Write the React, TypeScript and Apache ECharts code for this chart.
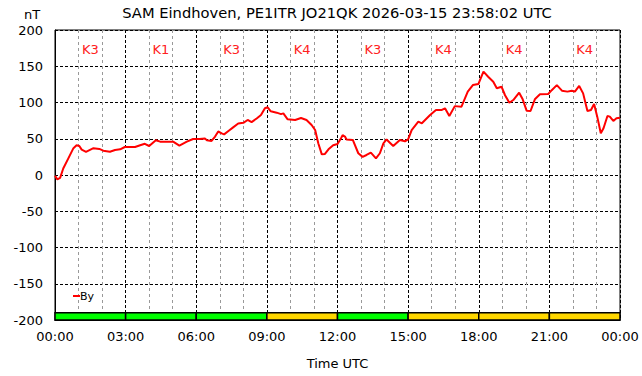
import { useEffect, useRef } from "react";
import * as echarts from "echarts";

const TITLE = "SAM Eindhoven, PE1ITR JO21QK 2026-03-15 23:58:02 UTC";
const SERIES_NAME = "By";

// time of day in minutes
const minutes = [
  0, 6, 13, 21, 34, 47, 55, 62, 68, 79, 98, 113, 123, 140, 153, 166, 178, 204, 217, 229,
  240, 257, 268, 301, 317, 336, 352, 368, 382, 387, 399, 408, 416, 425, 431, 442, 454, 467,
  480, 491, 501, 514, 525, 535, 542, 550, 565, 576, 582, 593, 612, 627, 641, 654, 663, 671,
  680, 688, 697, 709, 720, 729, 733, 739, 743, 759, 773, 784, 794, 805, 818, 828, 837, 845,
  862, 879, 892, 900, 909, 926, 935, 956, 971, 986, 994, 1005, 1019, 1036, 1052, 1065, 1079,
  1092, 1104, 1117, 1126, 1138, 1147, 1158, 1168, 1183, 1192, 1202, 1212, 1223, 1236, 1257,
  1266, 1279, 1292, 1306, 1317, 1325, 1336, 1346, 1357, 1366, 1374, 1382, 1391, 1398, 1408,
  1414, 1423, 1431, 1440,
];
// By component in nT
const byValues = [
  -1, -6, -4, 9, 23, 37, 41, 40, 35, 32, 37, 36, 33.5, 32, 34.5, 35.4, 38.6, 38.6, 41, 43,
  40, 48, 46, 46, 40.5, 46, 49.6, 49.6, 50.5, 48, 47, 53, 60, 57.5, 56, 60.7, 65.7, 71,
  72, 75.9, 73, 78, 82.8, 92, 93.4, 87.8, 86, 84, 85, 76.8, 75.9, 78.6, 75.9, 69, 62, 43.7,
  28.5, 29, 35.4, 41, 42.8, 50.6, 55, 53, 49, 48.3, 30, 25, 27.6, 30.8, 23, 30, 43.7, 49,
  40, 48.3, 46.5, 49, 62, 73.5, 71.3, 82.8, 89.7, 89.7, 92, 81.4, 95, 94.2, 115, 124, 125.5,
  142.5, 135.6, 128.7, 119.6, 121.8, 110, 99.7, 103.4, 113.5, 104.4, 88.7, 88.3, 104.4, 111.3, 111.7,
  117, 124, 116.3, 115, 116.3, 115, 122.8, 112.6, 88.3, 89.7, 98, 80.5, 57.5, 64.4, 81.4,
  80.5, 74.5, 78.2, 79,
];

// K index per 3-hour block
const kBlockStart = [0, 180, 360, 540, 720, 900, 1080, 1260];
const kValues = [3, 1, 3, 4, 3, 4, 4, 4];

const Y_MIN = -200;
const Y_MAX = 200;
const Y_STEP = 50;
const X_MIN = 0;
const X_MAX = 1440;
const X_STEP = 180;

const FONT = "DejaVu Sans";

export default function App() {
  const ref = useRef<HTMLDivElement>(null);

  useEffect(() => {
    if (!ref.current) return;
    const chart = echarts.init(ref.current, null, { renderer: "svg" });

    const lineData = minutes.map((m, i) => [m, byValues[i]]);
    const kBars = kBlockStart.map((s, i) => [s, s + 180, kValues[i]]);
    const kLabels = kBlockStart.map((s, i) => [s + 90, 173, kValues[i]]);

    const pad = (n: number) => (n < 10 ? "0" + n : "" + n);

    chart.setOption({
      animation: false,
      backgroundColor: "#ffffff",
      textStyle: { fontFamily: FONT },
      grid: {
        left: 55,
        right: 22,
        top: 30,
        bottom: 56,
        show: true,
        borderColor: "#000",
        borderWidth: 1,
        backgroundColor: "transparent",
      },
      graphic: [
        {
          type: "text",
          x: 337,
          y: 12,
          style: {
            text: TITLE,
            font: `14.7px "${FONT}"`,
            fill: "#000",
            align: "center",
            verticalAlign: "middle",
          },
        },
        {
          type: "text",
          left: 24,
          top: 8,
          style: { text: "nT", font: `13px "${FONT}"`, fill: "#000" },
        },
        {
          type: "rect",
          shape: { x: 73, y: 295, width: 7, height: 2 },
          style: { fill: "#ff0000" },
          z: 10,
        },
        {
          type: "text",
          x: 80,
          y: 296,
          style: {
            text: SERIES_NAME,
            font: `11px "${FONT}"`,
            fill: "#000",
            verticalAlign: "middle",
          },
          z: 10,
        },
      ],
      xAxis: {
        type: "value",
        min: X_MIN,
        max: X_MAX,
        interval: X_STEP,
        name: "Time UTC",
        nameLocation: "middle",
        nameGap: 37,
        nameTextStyle: { fontFamily: FONT, fontSize: 13, color: "#000" },
        axisLine: { show: true, onZero: false, lineStyle: { color: "#000", width: 1 } },
        axisTick: { show: false },
        axisLabel: {
          fontFamily: FONT,
          fontSize: 13,
          color: "#000",
          margin: 10,
          formatter: (v: number) => pad(Math.floor(v / 60) % 24) + ":00",
        },
        splitLine: { show: true, lineStyle: { color: "#000", type: [3, 2], width: 1 } },
        minorTick: { show: false, splitNumber: 3 },
        minorSplitLine: { show: true, lineStyle: { color: "#999", type: [3, 3], width: 1 } },
      },
      yAxis: {
        type: "value",
        min: Y_MIN,
        max: Y_MAX,
        interval: Y_STEP,
        axisLine: { show: true, onZero: false, lineStyle: { color: "#000", width: 1 } },
        axisTick: { show: false },
        axisLabel: { fontFamily: FONT, fontSize: 13, color: "#000", margin: 12 },
        splitLine: { show: true, lineStyle: { color: "#000", type: [3, 2], width: 1 } },
      },
      series: [
        {
          type: "custom",
          name: "Kbars",
          data: kBars,
          z: 3,
          renderItem: (_params: any, api: any) => {
            const p0 = api.coord([api.value(0), -190]);
            const p1 = api.coord([api.value(1), Y_MIN]);
            const k = api.value(2);
            return {
              type: "rect",
              shape: { x: p0[0], y: p0[1], width: p1[0] - p0[0], height: p1[1] - p0[1] },
              style: { fill: k >= 4 ? "#ffd700" : "#00ff00", stroke: "#000", lineWidth: 1.5 },
            };
          },
        },
        {
          type: "custom",
          name: "Klabels",
          data: kLabels,
          z: 4,
          renderItem: (_params: any, api: any) => {
            const p = api.coord([api.value(0), api.value(1)]);
            return {
              type: "text",
              x: p[0],
              y: p[1],
              style: {
                text: "K" + api.value(2),
                font: `13px "${FONT}"`,
                fill: "#ff2020",
                align: "center",
                verticalAlign: "middle",
              },
            };
          },
        },
        {
          type: "line",
          name: SERIES_NAME,
          data: lineData,
          showSymbol: false,
          symbol: "none",
          z: 5,
          lineStyle: { color: "#ff0000", width: 2 },
        },
      ],
    });

    return () => chart.dispose();
  }, []);

  return (
    <div
      ref={ref}
      style={{ position: "fixed", left: 0, top: 0, width: 642, height: 376 }}
    />
  );
}
